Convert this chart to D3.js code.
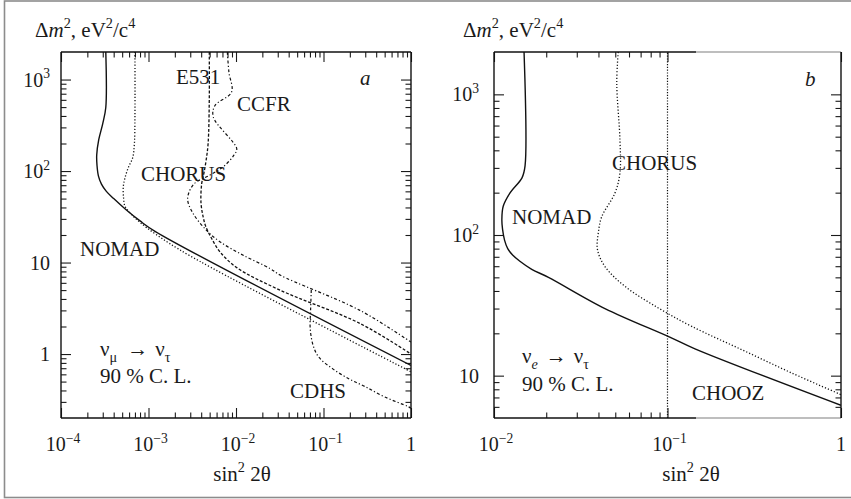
<!DOCTYPE html>
<html>
<head>
<meta charset="utf-8">
<script src="https://cdn.jsdelivr.net/npm/d3@7"></script>
<style>
  body { margin: 0; background: #fff; }
  svg { display: block; }
  text { font-family: "Liberation Serif", "Times New Roman", Times, serif; fill: #1a1a1a; }
</style>
</head>
<body>
<svg id="chart" width="851" height="499" font-family="Liberation Serif, serif"></svg>
<script>
// ---- Panel (a): nu_mu -> nu_tau, 90% C.L. exclusion contours [sin^2 2theta, dm^2] ----
const nomadA = [[3.25e-4,2000],[3.25e-4,495],[3.0e-4,330],[2.7e-4,220],[2.56e-4,150],[2.58e-4,115],
  [2.68e-4,88],[2.9e-4,72],[3.3e-4,60],[4.0e-4,50],[5.5e-4,38],[8.0e-4,28.5],[1.2e-3,21.8],[1,0.75]];
const chorusA = [[7.0e-4,2000],[7.0e-4,400],[6.9e-4,200],[6.6e-4,140],[5.9e-4,110],[5.4e-4,85],
  [5.15e-4,67],[5.2e-4,50],[5.4e-4,41],[6.5e-4,33],[8.0e-4,27.5],[1.2e-3,20.5],[3.0e-3,11.8],[1,0.64]];
const e531A = [[4.95e-3,2000],[4.95e-3,600],[4.8e-3,200],[4.55e-3,130],[4.3e-3,95],[4.05e-3,72],
  [3.98e-3,45],[4.2e-3,32],[4.5e-3,25],[5.27e-3,18.3],[6.56e-3,13.1],[0.0102,8.8],[0.0318,5.0],
  [0.261,2.16],[1,1.0]];
const ccfrA = [[7.96e-3,2000],[8.3e-3,1200],[8.9e-3,730],[5.75e-3,520],[5.5e-3,390],[0.0102,175],
  [9.5e-3,150],[7.2e-3,112],[5.0e-3,90],[3.3e-3,72],[2.8e-3,50],[3.2e-3,35],[4.6e-3,22.5],
  [6.6e-3,16.8],[0.0121,12.0],[0.0245,8.6],[0.0318,7.3],[0.261,3.0],[1,1.35]];
const cdhsA = [[0.0725,5.0],[0.0712,3.0],[0.0705,1.9],[0.076,1.25],[0.088,0.93],[0.13,0.68],
  [0.2,0.53],[0.3,0.44],[0.5,0.34],[0.93,0.266],[1,0.255]];

// ---- Panel (b): nu_e -> nu_tau, 90% C.L. ----
const nomadB = [[0.0149,2000],[0.0151,310],[0.0145,255],[0.0124,200],[0.0113,160],[0.0111,128],
  [0.0112,110],[0.0115,92],[0.012,80],[0.0128,72],[0.0141,65],[0.0165,57],[0.0206,50],
  [0.0436,30],[0.103,18.8],[0.144,15.5],[1,6.15]];
const chorusB = [[0.052,2000],[0.051,1200],[0.0532,474],[0.0532,276],[0.0498,199],[0.0418,135],
  [0.0399,103],[0.0395,78.5],[0.0436,59.7],[0.0569,43.1],[0.0885,30.3],[0.138,22.4],
  [0.268,15.3],[0.52,10.45],[1,7.33]];
const choozB = [[0.1,5],[0.1,2000]];

// ---- Axis ticks and labels ----
const xDomainA = [1e-4, 1], yDomainA = [0.2, 2000];
const xDomainB = [0.01, 1], yDomainB = [5, 2000];
const xMajorA = [1e-4, 1e-3, 1e-2, 1e-1, 1];
const xLabelsA = [["10","−4"],["10","−3"],["10","−2"],["10","−1"],["1"]];
const yMajorA = [1, 10, 100, 1000];
const yLabelsA = [["1"],["10"],["10","2"],["10","3"]];
const xMajorB = [0.01, 0.1, 1];
const xLabelsB = [["10","−2"],["10","−1"],["1"]];
const yMajorB = [10, 100, 1000];
const yLabelsB = [["10"],["10","2"],["10","3"]];

const minorsIn = (lo, hi, decades) => decades.flatMap(d => d3.range(2, 10).map(k => k * d))
  .filter(v => v > lo * 1.0001 && v < hi * 0.9999);

const svg = d3.select("#chart");

// outer frame
svg.append("rect").attr("x", 4.5).attr("y", 1).attr("width", 852).attr("height", 496.5)
  .attr("fill", "none").attr("stroke", "#8c8c8c").attr("stroke-width", 1.6);

function rich(g, x, y, parts, opt = {}) {
  const size = opt.size || 21;
  const t = g.append("text").attr("x", x).attr("y", y).attr("font-size", size)
    .attr("text-anchor", opt.anchor || "start");
  if (opt.italic) t.attr("font-style", "italic");
  let shift = 0;
  parts.forEach(p => {
    const target = p.sup ? -0.42 * size : p.sub ? 0.3 * size : 0;
    const ts = t.append("tspan").attr("dy", target - shift);
    shift = target;
    if (p.dx) ts.attr("dx", p.dx);
    if (p.sup || p.sub) ts.attr("font-size", size * 0.68);
    if (p.it) ts.attr("font-style", "italic");
    ts.text(p.t);
  });
  return t;
}

function panel(cfg) {
  const { xs, ys, x0, x1, y0, y1 } = cfg;
  const g = svg.append("g");
  const id = "clip" + cfg.name;
  svg.append("clipPath").attr("id", id).append("rect")
    .attr("x", x0).attr("y", y0).attr("width", x1 - x0).attr("height", y1 - y0);

  // ticks: major 10px, minor 5.5px, drawn inward on all four sides
  const tickG = g.append("g");
  const addTicks = (axisFn, scale, vals, len, pos) => {
    const a = axisFn(scale).tickValues(vals).tickSizeInner(len).tickSizeOuter(0).tickFormat("");
    const ag = tickG.append("g").attr("transform", pos).call(a);
    ag.select(".domain").remove();
    ag.selectAll("line").attr("stroke", "#1a1a1a").attr("stroke-width", 1.1);
  };
  addTicks(d3.axisBottom, xs, cfg.xMajor, -10, `translate(0,${y1})`);
  addTicks(d3.axisBottom, xs, cfg.xMinor, -5.5, `translate(0,${y1})`);
  addTicks(d3.axisTop, xs, cfg.xMajor, -10, `translate(0,${y0})`);
  addTicks(d3.axisTop, xs, cfg.xMinor, -5.5, `translate(0,${y0})`);
  addTicks(d3.axisLeft, ys, cfg.yMajor, -10, `translate(${x0},0)`);
  addTicks(d3.axisLeft, ys, cfg.yMinor, -5.5, `translate(${x0},0)`);
  addTicks(d3.axisRight, ys, cfg.yMajor, -10, `translate(${x1},0)`);
  addTicks(d3.axisRight, ys, cfg.yMinor, -5.5, `translate(${x1},0)`);

  // curves
  const line = d3.line().x(d => xs(d[0])).y(d => ys(d[1])).curve(d3.curveCatmullRom.alpha(0.5));
  const cg = g.append("g").attr("clip-path", `url(#${id})`).attr("fill", "none").attr("stroke", "#111");
  cfg.curves.forEach(c => {
    cg.append("path").attr("d", line(c.data)).attr("stroke-width", c.w || 1.3)
      .attr("stroke-dasharray", c.dash || null);
  });

  // spines
  cfg.spines.forEach(s => {
    g.append("line").attr("x1", s[0]).attr("y1", s[1]).attr("x2", s[2]).attr("y2", s[3])
      .attr("stroke", s[4] || "#111").attr("stroke-width", 1.4);
  });

  // tick labels
  cfg.xMajor.forEach((v, i) => {
    const lab = cfg.xLabels[i];
    const parts = lab.length > 1 ? [{ t: lab[0] }, { t: lab[1], sup: true }] : [{ t: lab[0] }];
    rich(g, xs(v) + (lab.length > 1 ? 2 : 0), 451, parts, { anchor: "middle", size: 20 });
  });
  cfg.yMajor.forEach((v, i) => {
    const lab = cfg.yLabels[i];
    const parts = lab.length > 1 ? [{ t: lab[0] }, { t: lab[1], sup: true }] : [{ t: lab[0] }];
    rich(g, cfg.yLabelX, ys(v) + 7, parts, { anchor: "end", size: 20 });
  });

  // axis titles
  rich(g, cfg.yTitleX, 37, [{ t: "Δ" }, { t: "m", it: true }, { t: "2", sup: true },
    { t: ", eV" }, { t: "2", sup: true }, { t: "/c" }, { t: "4", sup: true }]);
  rich(g, cfg.xTitleX, 481, [{ t: "sin" }, { t: "2", sup: true }, { t: " 2θ" }], { anchor: "middle" });

  cfg.labels.forEach(l => rich(g, l.x, l.y, l.parts, { italic: l.italic }));
  return g;
}

// panel (a)
{
  const xs = d3.scaleLog().domain(xDomainA).range([61, 411]);
  const ys = d3.scaleLog().domain(yDomainA).range([418, 52]);
  panel({
    name: "A", xs, ys, x0: 61, x1: 411, y0: 52, y1: 418,
    xMajor: xMajorA, xLabels: xLabelsA,
    xMinor: minorsIn(1e-4, 1, [1e-4, 1e-3, 1e-2, 1e-1]),
    yMajor: yMajorA, yLabels: yLabelsA,
    yMinor: minorsIn(0.2, 2000, [0.1, 1, 10, 100, 1000]),
    yLabelX: 50, yTitleX: 35, xTitleX: 242,
    curves: [
      { data: cdhsA, dash: "3,2.2,1.2,2.2", w: 1.2 },
      { data: ccfrA, dash: "3,2.2,1.2,2.2", w: 1.2 },
      { data: e531A, dash: "3,1.8", w: 1.3 },
      { data: chorusA, dash: "1.2,2", w: 1.3 },
      { data: nomadA, w: 1.4 }
    ],
    spines: [[61, 52, 411, 52], [61, 418, 411, 418], [61, 52, 61, 418], [411, 52, 411, 418]],
    labels: [
      { x: 176, y: 84, parts: [{ t: "E531" }] },
      { x: 237, y: 111, parts: [{ t: "CCFR" }] },
      { x: 141, y: 181, parts: [{ t: "CHORUS" }] },
      { x: 80, y: 256, parts: [{ t: "NOMAD" }] },
      { x: 290, y: 398, parts: [{ t: "CDHS" }] },
      { x: 360, y: 85, parts: [{ t: "a" }], italic: true },
      { x: 100, y: 356, parts: [{ t: "ν" }, { t: "μ", sub: true },
        { t: "→", dx: 10 }, { t: "ν", dx: 7 }, { t: "τ", sub: true }] },
      { x: 100, y: 383, parts: [{ t: "90 % C. L." }] }
    ]
  });
}

// panel (b)
{
  const xs = d3.scaleLog().domain(xDomainB).range([494, 841]);
  const ys = d3.scaleLog().domain(yDomainB).range([418, 52]);
  const xCut = 696;
  panel({
    name: "B", xs, ys, x0: 494, x1: 841, y0: 52, y1: 418,
    xMajor: xMajorB, xLabels: xLabelsB,
    xMinor: minorsIn(0.01, 0.1, [0.01]),
    yMajor: yMajorB, yLabels: yLabelsB,
    yMinor: minorsIn(5, 2000, [1, 10, 100, 1000]),
    yLabelX: 479, yTitleX: 463, xTitleX: 691,
    curves: [
      { data: choozB, dash: "1.2,1.6", w: 1.2 },
      { data: chorusB, dash: "1.2,2", w: 1.3 },
      { data: nomadB, w: 1.4 }
    ],
    spines: [[494, 52, xCut, 52], [xCut, 52, 841, 52, "#a8a8a8"],
             [494, 418, xCut, 418], [xCut, 418, 841, 418, "#a8a8a8"],
             [494, 52, 494, 418], [841, 52, 841, 418]],
    labels: [
      { x: 612, y: 170, parts: [{ t: "CHORUS" }] },
      { x: 512, y: 224, parts: [{ t: "NOMAD" }] },
      { x: 692, y: 400, parts: [{ t: "CHOOZ" }] },
      { x: 805, y: 86, parts: [{ t: "b" }], italic: true },
      { x: 522, y: 363, parts: [{ t: "ν" }, { t: "e", sub: true, it: true },
        { t: "→", dx: 8 }, { t: "ν", dx: 7 }, { t: "τ", sub: true }] },
      { x: 522, y: 391, parts: [{ t: "90 % C. L." }] }
    ]
  });
}
</script>
</body>
</html>
